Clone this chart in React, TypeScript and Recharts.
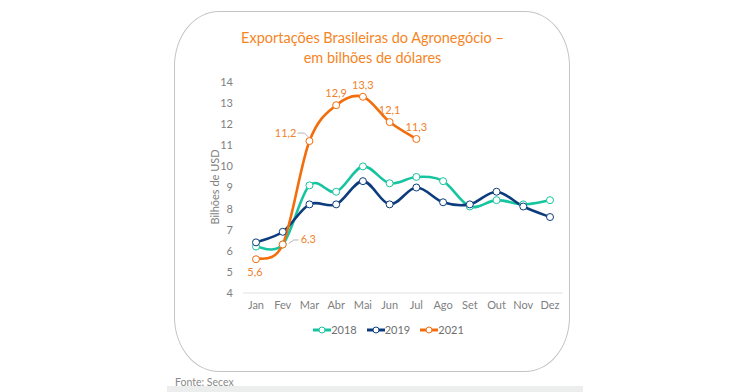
import { LineChart, Line, XAxis, YAxis, Legend, LabelList } from "recharts";

const months = ["Jan", "Fev", "Mar", "Abr", "Mai", "Jun", "Jul", "Ago", "Set", "Out", "Nov", "Dez"];
const exports2018 = [6.2, 6.3, 9.1, 8.8, 10.0, 9.2, 9.5, 9.3, 8.1, 8.4, 8.2, 8.4];
const exports2019 = [6.4, 6.9, 8.2, 8.2, 9.3, 8.2, 9.0, 8.3, 8.2, 8.8, 8.1, 7.6];
const exports2021 = [5.6, 6.3, 11.2, 12.9, 13.3, 12.1, 11.3];
const yTicks = [4, 5, 6, 7, 8, 9, 10, 11, 12, 13, 14];

const data = months.map((month, i) => ({
  month,
  y2018: exports2018[i],
  y2019: exports2019[i],
  y2021: exports2021[i] ?? null,
}));

const FONT = "Lato, 'Noto Sans', sans-serif";
const TEAL = "#17c4a0";
const NAVY = "#0d3c7d";
const ORANGE = "#f46d0c";
const ORANGE_TEXT = "#f0812a";
const AXIS_TEXT = "#7f7f7f";

const series = [
  { key: "y2018", name: "2018", color: TEAL },
  { key: "y2019", name: "2019", color: NAVY },
  { key: "y2021", name: "2021", color: ORANGE },
];

// catmull-rom style smoothing, close to what the source tool draws
function smoothCurve(context: any) {
  let pts: number[][] = [];
  return {
    areaStart() {},
    areaEnd() {},
    lineStart() {
      pts = [];
    },
    point(x: number, y: number) {
      pts.push([+x, +y]);
    },
    lineEnd() {
      const n = pts.length;
      if (!n) return;
      context.moveTo(pts[0][0], pts[0][1]);
      for (let i = 0; i < n - 1; i++) {
        const p0 = pts[i - 1] ?? pts[i];
        const p1 = pts[i];
        const p2 = pts[i + 1];
        const p3 = pts[i + 2] ?? p2;
        context.bezierCurveTo(
          p1[0] + (p2[0] - p0[0]) / 6,
          p1[1] + (p2[1] - p0[1]) / 6,
          p2[0] - (p3[0] - p1[0]) / 6,
          p2[1] - (p3[1] - p1[1]) / 6,
          p2[0],
          p2[1]
        );
      }
    },
  };
}

const fmt = (v: number) => v.toFixed(1).replace(".", ",");

const renderLabel = (props: any) => {
  const { x, y, value, index } = props;
  if (value == null) return null;
  const textProps = { fill: ORANGE_TEXT, fontSize: 11, fontFamily: FONT };
  if (index === 0) {
    return (
      <text x={x - 1} y={y + 17} textAnchor="middle" {...textProps}>
        {fmt(value)}
      </text>
    );
  }
  if (index === 1) {
    return (
      <g>
        <polyline
          points={`${x + 6},${y - 1} ${x + 11},${y - 4.5} ${x + 16},${y - 4.5}`}
          fill="none"
          stroke="#b5b5b5"
          strokeWidth={1}
        />
        <text x={x + 18} y={y - 1} textAnchor="start" {...textProps}>
          {fmt(value)}
        </text>
      </g>
    );
  }
  if (index === 2) {
    return (
      <g>
        <polyline
          points={`${x - 12},${y - 8} ${x - 5},${y - 8} ${x - 1},${y - 4}`}
          fill="none"
          stroke="#b5b5b5"
          strokeWidth={1}
        />
        <text x={x - 13} y={y - 4} textAnchor="end" {...textProps}>
          {fmt(value)}
        </text>
      </g>
    );
  }
  return (
    <text x={x} y={y - 8} textAnchor="middle" {...textProps}>
      {fmt(value)}
    </text>
  );
};

const renderLegend = () => (
  <div
    style={{
      display: "flex",
      justifyContent: "center",
      gap: 10,
      paddingLeft: 20,
      height: 32,
      fontFamily: FONT,
      fontSize: 11,
      color: "#6f6f6f",
      lineHeight: "14px",
    }}
  >
    {series.map((s) => (
      <div key={s.key} style={{ display: "flex", alignItems: "center", height: 14 }}>
        <svg width={18} height={10}>
          <line x1={0} y1={5} x2={18} y2={5} stroke={s.color} strokeWidth={3} />
          <circle cx={9} cy={5} r={3} fill="#fff" stroke={s.color} strokeWidth={1} />
        </svg>
        <span>{s.name}</span>
      </div>
    ))}
  </div>
);

export default function App() {
  return (
    <div style={{ position: "absolute", left: 0, top: 0, width: 750, height: 392, background: "#fff", overflow: "hidden" }}>
      <div
        style={{
          position: "absolute",
          left: 174,
          top: 11,
          width: 396,
          height: 361,
          border: "1.5px solid #c4c4c4",
          borderRadius: "45px / 55px",
          boxSizing: "border-box",
          background: "#fff",
        }}
      />
      <div
        style={{
          position: "absolute",
          left: 174,
          top: 28,
          width: 397,
          textAlign: "center",
          fontFamily: FONT,
          fontSize: 14.5,
          lineHeight: "20px",
          color: "#f5851f",
        }}
      >
        Exportações Brasileiras do Agronegócio –<br />
        em bilhões de dólares
      </div>
      <div
        style={{
          position: "absolute",
          left: 214,
          top: 187,
          transform: "translate(-50%, -50%) rotate(-90deg)",
          fontFamily: FONT,
          fontSize: 11,
          color: AXIS_TEXT,
          whiteSpace: "nowrap",
        }}
      >
        Bilhões de USD
      </div>
      <div style={{ position: "absolute", left: 174, top: 70 }}>
        <LineChart width={397} height={290} data={data} margin={{ top: 12, right: 8, left: 20, bottom: 5 }}>
          <XAxis
            dataKey="month"
            axisLine={{ stroke: "#e2e2e2" }}
            tickLine={false}
            tick={{ fill: AXIS_TEXT, fontSize: 11, fontFamily: FONT }}
            interval={0}
            height={30}
            padding={{ left: 13, right: 13 }}
          />
          <YAxis
            domain={[4, 14]}
            ticks={yTicks}
            axisLine={false}
            tickLine={false}
            tickSize={6}
            tickMargin={4}
            width={49}
            tick={{ fill: AXIS_TEXT, fontSize: 11, fontFamily: FONT }}
          />
          <Legend verticalAlign="bottom" content={renderLegend} />
          {series.map((s) => (
            <Line
              key={s.key}
              dataKey={s.key}
              name={s.name}
              type={smoothCurve as any}
              stroke={s.color}
              strokeWidth={2.6}
              dot={{ r: 3.5, fill: "#fff", stroke: s.color, strokeWidth: 1 }}
              activeDot={false}
              isAnimationActive={false}
            >
              {s.key === "y2021" && <LabelList dataKey="y2021" content={renderLabel} />}
            </Line>
          ))}
        </LineChart>
      </div>
      <div style={{ position: "absolute", left: 167, top: 386, width: 416, height: 6, background: "#eceeee" }} />
      <div
        style={{
          position: "absolute",
          left: 175,
          top: 376,
          fontFamily: FONT,
          fontSize: 10.5,
          color: "#8a8a8a",
        }}
      >
        Fonte: Secex
      </div>
    </div>
  );
}
